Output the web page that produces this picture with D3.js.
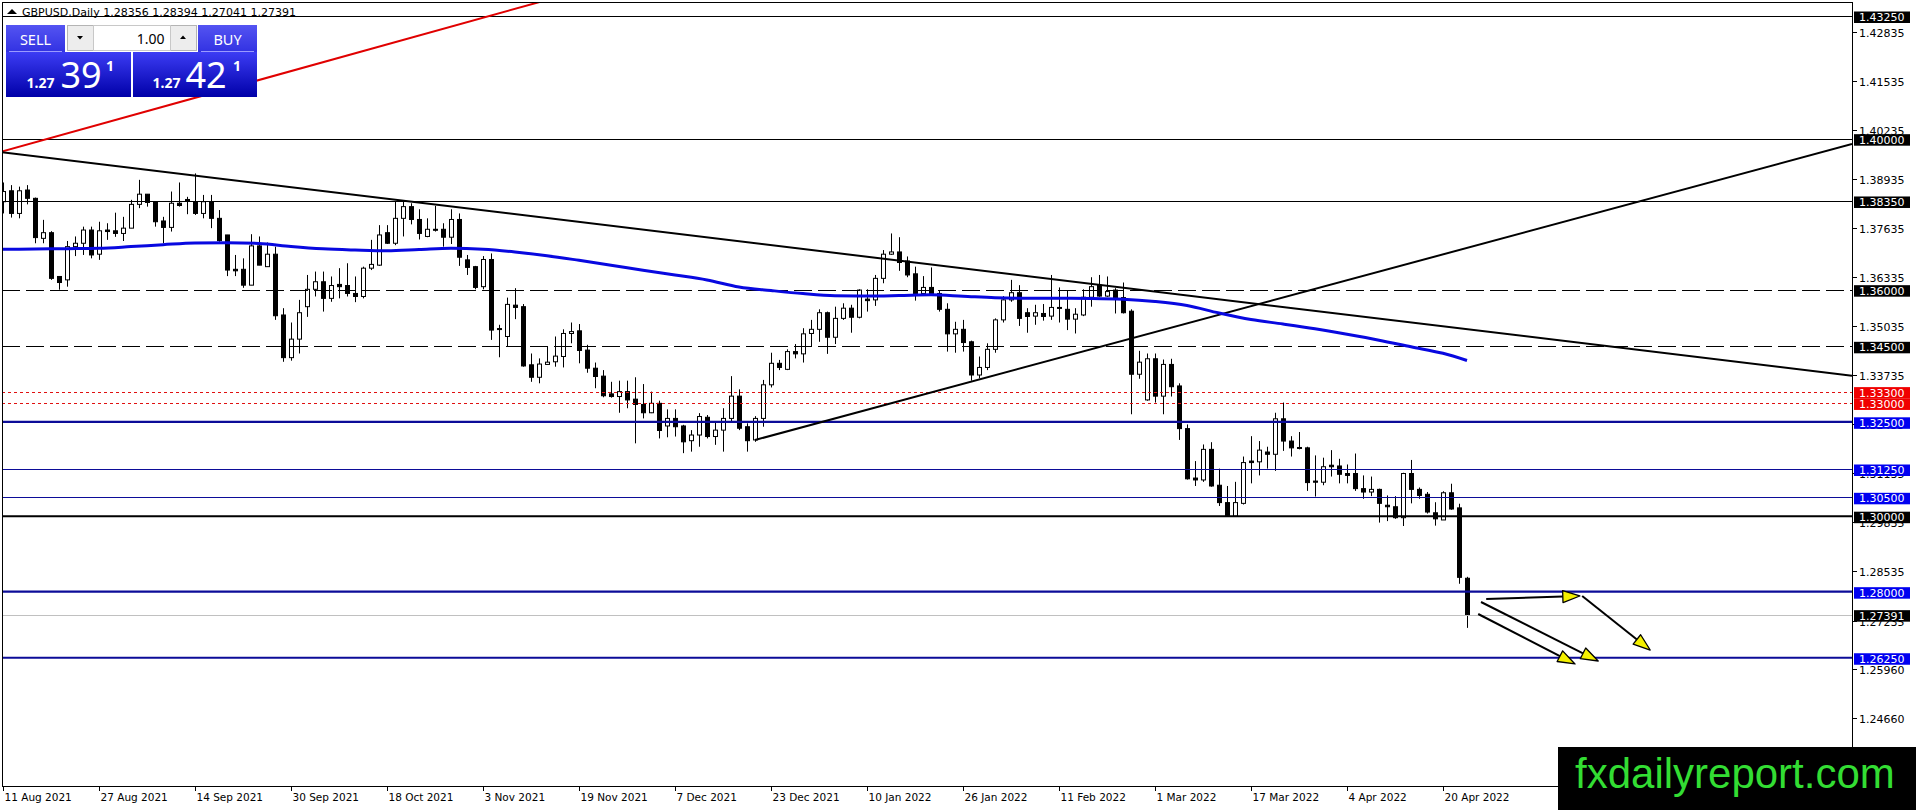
<!DOCTYPE html>
<html><head><meta charset="utf-8">
<script src="https://cdnjs.cloudflare.com/ajax/libs/d3/7.8.5/d3.min.js"></script>
<style>html,body{margin:0;padding:0;background:#fff;overflow:hidden}svg{display:block}</style>
</head><body>
<svg id="c" width="1916" height="810"></svg>
<script>
// ---------------- DATA ----------------
const symbolTitle = "GBPUSD,Daily";
const lastOHLC = ["1.28356", "1.28394", "1.27041", "1.27391"];
const firstBarDate = "2021-08-11";
const bidPrice = ["1.27", "39", "1"];
const askPrice = ["1.27", "42", "1"];
const lotSize = "1.00";

const open = [1.3833,1.3862,1.3802,1.3864,1.3842,1.3736,1.3751,1.3635,1.3626,1.3714,
1.3723,1.3758,1.3694,1.3758,1.3756,1.3749,1.3763,1.3826,1.3853,1.3833,
1.3782,1.3765,1.3829,1.3839,1.3833,1.3802,1.3833,1.3789,1.3745,1.3654,
1.3654,1.3612,1.3716,1.3661,1.3694,1.3533,1.3420,1.3469,1.3555,1.3601,
1.3621,1.3577,1.3614,1.3611,1.3590,1.3582,1.3657,1.3665,1.3751,1.3723,
1.3789,1.3820,1.3786,1.3741,1.3760,1.3760,1.3739,1.3786,1.3679,1.3661,
1.3608,1.3680,1.3497,1.3476,1.3559,1.3555,1.3401,1.3368,1.3402,1.3409,
1.3423,1.3484,1.3491,1.3440,1.3392,1.3371,1.3324,1.3317,1.3330,1.3310,
1.3296,1.3274,1.3299,1.3239,1.3259,1.3239,1.3200,1.3215,1.3262,1.3211,
1.3228,1.3259,1.3318,1.3237,1.3202,1.3259,1.3348,1.3405,1.3389,1.3436,
1.3430,1.3484,1.3495,1.3539,1.3474,1.3524,1.3551,1.3527,1.3575,1.3573,
1.3630,1.3694,1.3700,1.3676,1.3642,1.3590,1.3606,1.3590,1.3548,1.3483,
1.3495,1.3462,1.3374,1.3394,1.3442,1.3520,1.3573,1.3592,1.3539,1.3530,
1.3537,1.3530,1.3553,1.3548,1.3522,1.3533,1.3580,1.3612,1.3583,1.3599,
1.3579,1.3543,1.3376,1.3308,1.3417,1.3318,1.3402,1.3345,1.3232,1.3101,
1.3096,1.3177,1.3082,1.3036,1.3000,1.3034,1.3146,1.3144,1.3170,1.3164,
1.3258,1.3199,1.3182,1.3181,1.3093,1.3090,1.3135,1.3133,1.3113,1.3113,
1.3073,1.3064,1.3071,1.3029,1.3025,1.2996,1.3113,1.3071,1.3058,1.3009,
1.2990,1.3062,1.3022,1.28356];

const high = [1.3884,1.3877,1.3873,1.3877,1.3844,1.3785,1.3755,1.3635,1.3729,1.3741,
1.3767,1.3767,1.3780,1.3776,1.3804,1.3793,1.3838,1.3891,1.3853,1.3833,
1.3793,1.3860,1.3884,1.3846,1.3908,1.3851,1.3851,1.3811,1.3745,1.3692,
1.3683,1.3747,1.3741,1.3725,1.3714,1.3551,1.3513,1.3573,1.3639,1.3648,
1.3648,1.3635,1.3657,1.3670,1.3635,1.3661,1.3732,1.3771,1.3771,1.3833,
1.3833,1.3829,1.3813,1.3789,1.3822,1.3776,1.3813,1.3802,1.3692,1.3663,
1.3689,1.3696,1.3507,1.3579,1.3604,1.3562,1.3431,1.3418,1.3449,1.3476,
1.3495,1.3513,1.3509,1.3454,1.3407,1.3387,1.3356,1.3359,1.3359,1.3368,
1.3350,1.3330,1.3306,1.3283,1.3283,1.3242,1.3228,1.3273,1.3268,1.3250,
1.3286,1.3371,1.3336,1.3246,1.3265,1.3361,1.3433,1.3414,1.3442,1.3456,
1.3498,1.3520,1.3548,1.3542,1.3555,1.3564,1.3560,1.3601,1.3601,1.3639,
1.3705,1.3749,1.3739,1.3688,1.3661,1.3636,1.3659,1.3599,1.3564,1.3515,
1.3520,1.3465,1.3423,1.3458,1.3524,1.3583,1.3626,1.3612,1.3551,1.3560,
1.3562,1.3639,1.3606,1.3599,1.3551,1.3601,1.3633,1.3639,1.3635,1.3604,
1.3619,1.3548,1.3438,1.3431,1.3431,1.3415,1.3417,1.3352,1.3243,1.3146,
1.3190,1.3196,1.3126,1.3080,1.3091,1.3158,1.3212,1.3199,1.3184,1.3274,
1.3301,1.3212,1.3223,1.3184,1.3161,1.3155,1.3175,1.3152,1.3137,1.3166,
1.3108,1.3105,1.3073,1.3055,1.3053,1.3115,1.3149,1.3076,1.3064,1.3037,
1.3066,1.3086,1.3033,1.28394];

const low = [1.3802,1.3791,1.3789,1.3826,1.3723,1.3723,1.3626,1.3600,1.3608,1.3689,
1.3692,1.3683,1.3679,1.3732,1.3740,1.3729,1.3763,1.3816,1.3820,1.3767,
1.3723,1.3754,1.3820,1.3800,1.3798,1.3789,1.3763,1.3727,1.3636,1.3636,
1.3605,1.3612,1.3665,1.3661,1.3520,1.3409,1.3412,1.3431,1.3528,1.3582,
1.3542,1.3568,1.3577,1.3582,1.3567,1.3577,1.3652,1.3663,1.3721,1.3718,
1.3741,1.3773,1.3733,1.3739,1.3754,1.3714,1.3721,1.3663,1.3639,1.3601,
1.3601,1.3467,1.3421,1.3449,1.3522,1.3396,1.3356,1.3352,1.3401,1.3396,
1.3394,1.3458,1.3405,1.3380,1.3339,1.3315,1.3314,1.3274,1.3286,1.3193,
1.3259,1.3273,1.3206,1.3209,1.3211,1.3167,1.3171,1.3184,1.3206,1.3189,
1.3171,1.3250,1.3228,1.3171,1.3197,1.3237,1.3341,1.3387,1.3387,1.3418,
1.3407,1.3449,1.3462,1.3430,1.3456,1.3520,1.3486,1.3524,1.3542,1.3557,
1.3617,1.3692,1.3650,1.3633,1.3571,1.3589,1.3589,1.3542,1.3436,1.3433,
1.3436,1.3359,1.3365,1.3387,1.3433,1.3513,1.3568,1.3504,1.3486,1.3507,
1.3518,1.3520,1.3513,1.3493,1.3484,1.3530,1.3555,1.3581,1.3581,1.3537,
1.3537,1.3270,1.3364,1.3306,1.3301,1.3270,1.3317,1.3202,1.3097,1.3080,
1.3091,1.3078,1.3027,1.3000,1.2999,1.3031,1.3087,1.3108,1.3126,1.3120,
1.3173,1.3158,1.3177,1.3067,1.3052,1.3082,1.3105,1.3087,1.3087,1.3067,
1.3046,1.3053,1.2983,1.2987,1.2993,1.2974,1.3034,1.3046,1.3007,1.2975,
1.2990,1.3017,1.2821,1.27041];

const close = [1.3860,1.3802,1.3862,1.3842,1.3738,1.3751,1.3630,1.3619,1.3714,1.3723,
1.3758,1.3692,1.3756,1.3754,1.3749,1.3763,1.3826,1.3853,1.3831,1.3780,
1.3765,1.3829,1.3823,1.3835,1.3802,1.3833,1.3789,1.3730,1.3652,1.3650,
1.3612,1.3716,1.3665,1.3694,1.3531,1.3420,1.3469,1.3539,1.3601,1.3621,
1.3577,1.3611,1.3608,1.3590,1.3582,1.3657,1.3667,1.3745,1.3723,1.3789,
1.3820,1.3786,1.3749,1.3760,1.3759,1.3739,1.3786,1.3686,1.3659,1.3606,
1.3680,1.3493,1.3495,1.3561,1.3553,1.3398,1.3368,1.3403,1.3408,1.3424,
1.3484,1.3489,1.3439,1.3392,1.3370,1.3319,1.3317,1.3330,1.3308,1.3296,
1.3274,1.3299,1.3227,1.3259,1.3237,1.3197,1.3215,1.3264,1.3211,1.3228,
1.3259,1.3318,1.3233,1.3200,1.3259,1.3348,1.3405,1.3394,1.3436,1.3430,
1.3483,1.3495,1.3539,1.3474,1.3524,1.3551,1.3527,1.3599,1.3571,1.3630,
1.3694,1.3700,1.3672,1.3639,1.3590,1.3606,1.3590,1.3548,1.3483,1.3495,
1.3460,1.3374,1.3394,1.3442,1.3520,1.3573,1.3592,1.3524,1.3529,1.3539,
1.3529,1.3553,1.3551,1.3522,1.3535,1.3580,1.3608,1.3583,1.3595,1.3579,
1.3539,1.3376,1.3408,1.3417,1.3318,1.3402,1.3343,1.3232,1.3099,1.3096,
1.3177,1.3080,1.3036,1.3002,1.3036,1.3142,1.3142,1.3175,1.3164,1.3258,
1.3199,1.3181,1.3181,1.3089,1.3090,1.3131,1.3131,1.3111,1.3108,1.3073,
1.3064,1.3071,1.3034,1.3025,1.2996,1.3113,1.3071,1.3055,1.3011,1.2993,
1.3062,1.3019,1.2838,1.27391];

// moving average readings (bar index, value)
const maBars = [-1,0,4,8,12,16,20,24,28,32,36,40,44,48,52,56,60,64,68,72,76,80,84,88,92,96,100,104,108,112,116,120,124,128,132,136,140,144,148,152,156,160,164,168,172,176,180,183];
const maValues = [1.37068,1.37070,1.37078,1.37086,1.37096,1.37141,1.37192,1.37237,1.37245,1.37224,1.37144,1.37083,1.37051,1.37030,1.37062,1.37096,1.37070,1.36998,1.36900,1.36778,1.36649,1.36514,1.36389,1.36257,1.36071,1.35978,1.35896,1.35841,1.35833,1.35846,1.35865,1.35827,1.35785,1.35772,1.35772,1.35767,1.35748,1.35687,1.35581,1.35382,1.35210,1.35091,1.34964,1.34818,1.34662,1.34487,1.34315,1.34124];

const priceTickLabels = ["1.42835","1.41535","1.40235","1.38935","1.37635","1.36335","1.35035","1.33735","1.32435","1.31135","1.29835","1.28535","1.27235","1.25960","1.24660"];
const dateTickLabels = ["11 Aug 2021","27 Aug 2021","14 Sep 2021","30 Sep 2021","18 Oct 2021","3 Nov 2021","19 Nov 2021","7 Dec 2021","23 Dec 2021","10 Jan 2022","26 Jan 2022","11 Feb 2022","1 Mar 2022","17 Mar 2022","4 Apr 2022","20 Apr 2022"];

// horizontal levels
const levelPrices = [1.4325, 1.4000, 1.3835, 1.3600, 1.3450, 1.3330, 1.3300, 1.3250, 1.3125, 1.3050, 1.3000, 1.2800, 1.2625];
const levelLabels = ["1.43250","1.40000","1.38350","1.36000","1.34500","1.33300","1.33000","1.32500","1.31250","1.30500","1.30000","1.28000","1.26250"];
const currentPrice = 1.27391;

// trendlines: [bar1, price1, bar2, price2]
const trendRed = [-0.375, 1.39647, 62.125, 1.43329];
const trendDown = [-0.375, 1.39647, 231.125, 1.33722];
const trendUp = [94, 1.32018, 231.125, 1.39859];

// arrows: [bar1, price1, bar2, price2]
const arrowSegments = [
  [185.4, 1.27806, 197.1, 1.27886],
  [197.4, 1.27886, 205.9, 1.26455],
  [184.75, 1.27727, 199.4, 1.26164],
  [184.4, 1.27409, 196.5, 1.26085]
];
const watermarkText = "fxdailyreport.com";

// ---------------- DRAWING ----------------
const W = 1916, H = 810;
const plot = {l: 2, t: 2, r: 1852, b: 786};
const svg = d3.select("#c");
svg.append("rect").attr("width", W).attr("height", H).attr("fill", "#fff");
const defs = svg.append("defs");
defs.append("clipPath").attr("id", "clip").append("rect")
  .attr("x", plot.l).attr("y", plot.t).attr("width", plot.r - plot.l).attr("height", plot.b - plot.t);

const xs = d3.scaleLinear().domain([0, 231]).range([3, 1851]);
const ys = d3.scaleLinear().domain([1.4325, 1.2625]).range([16, 657.75]);

const n = Math.min(open.length, high.length, low.length, close.length);
const bars = d3.range(n).map(i => ({i, o: open[i], h: high[i], l: low[i], c: close[i]}));

// dates for bars (weekdays)
const dates = [];
{
  const d = new Date(firstBarDate + "T12:00:00");
  while (dates.length < n) {
    const wd = d.getDay();
    if (wd !== 0 && wd !== 6) dates.push(new Date(d));
    d.setDate(d.getDate() + 1);
  }
}
const fmt = d3.timeFormat("%-d %b %Y");

const g = svg.append("g").attr("clip-path", "url(#clip)");

// candles
const cg = g.append("g");
bars.forEach(b => {
  const x = Math.round(xs(b.i));
  cg.append("line").attr("x1", x + 0.5).attr("x2", x + 0.5)
    .attr("y1", ys(b.h)).attr("y2", ys(b.l)).attr("stroke", "#000").attr("stroke-width", 1);
  const yTop = ys(Math.max(b.o, b.c)), yBot = ys(Math.min(b.o, b.c));
  const bull = b.c >= b.o;
  const hh = Math.max(1, yBot - yTop);
  cg.append("rect").attr("x", x - 1.5).attr("y", yTop).attr("width", 4).attr("height", hh)
    .attr("fill", bull ? "#fff" : "#000").attr("stroke", "#000").attr("stroke-width", 1);
});

// level lines
const lineBlue = "#0c0c98", boxBlue = "#0000f0", red = "#e01010";
const levelStyle = [
  {c: "#000", w: 1, box: "#000"},
  {c: "#000", w: 1, box: "#000"},
  {c: "#000", w: 1, box: "#000"},
  {c: "#000", w: 1, dash: "18,6", box: "#000"},
  {c: "#000", w: 1, dash: "18,6", box: "#000"},
  {c: red, w: 1, dash: "3,3", box: "#f00000"},
  {c: red, w: 1, dash: "3,3", box: "#f00000"},
  {c: lineBlue, w: 2.2, box: boxBlue},
  {c: lineBlue, w: 1, box: boxBlue},
  {c: lineBlue, w: 1, box: boxBlue},
  {c: "#000", w: 2, box: "#000"},
  {c: lineBlue, w: 2.2, box: boxBlue},
  {c: lineBlue, w: 2.2, box: boxBlue}
];
const lg = g.append("g");
// current price line
{
  const y = Math.round(ys(currentPrice)) + 0.5;
  lg.append("line").attr("x1", plot.l).attr("x2", plot.r).attr("y1", y).attr("y2", y)
    .attr("stroke", "#c0c0c0").attr("stroke-width", 1);
}
levelPrices.forEach((p, k) => {
  const s = levelStyle[k];
  const y = s.w === 1 ? Math.round(ys(p)) + 0.5 : ys(p);
  const ln = lg.append("line").attr("x1", plot.l).attr("x2", plot.r).attr("y1", y).attr("y2", y)
    .attr("stroke", s.c).attr("stroke-width", s.w);
  if (s.dash) ln.attr("stroke-dasharray", s.dash);
});

// trendlines
function seg(t, color, w) {
  g.append("line").attr("x1", xs(t[0])).attr("y1", ys(t[1])).attr("x2", xs(t[2])).attr("y2", ys(t[3]))
    .attr("stroke", color).attr("stroke-width", w);
}
// extend red trendline to the top border
{
  const slope = (trendRed[3] - trendRed[1]) / (trendRed[2] - trendRed[0]);
  const ext = [trendRed[0], trendRed[1], trendRed[2] + 20, trendRed[3] + slope * 20];
  seg(ext, "#e00000", 2);
}
seg(trendDown, "#000", 2);
seg(trendUp, "#000", 2);

// moving average
const maLine = d3.line().x((d, k) => xs(maBars[k])).y(d => ys(d)).curve(d3.curveMonotoneX);
g.append("path").attr("d", maLine(maValues)).attr("fill", "none")
  .attr("stroke", "#0808e0").attr("stroke-width", 3).attr("stroke-linejoin", "round");

// arrows
const ag = g.append("g");
arrowSegments.forEach(a => {
  const x1 = xs(a[0]), y1 = ys(a[1]), x2 = xs(a[2]), y2 = ys(a[3]);
  const dx = x2 - x1, dy = y2 - y1, len = Math.hypot(dx, dy);
  const ux = dx / len, uy = dy / len, px = -uy, py = ux;
  const L = 17, hw = 6;
  const bx = x2 - ux * L, by = y2 - uy * L;
  ag.append("line").attr("x1", x1).attr("y1", y1).attr("x2", bx).attr("y2", by)
    .attr("stroke", "#000").attr("stroke-width", 2);
  ag.append("path").attr("d", `M${x2},${y2}L${bx + px * hw},${by + py * hw}L${bx - px * hw},${by - py * hw}Z`)
    .attr("fill", "#f4f000").attr("stroke", "#000").attr("stroke-width", 1.3).attr("stroke-linejoin", "round");
});

// frame / axes
const ax = svg.append("g");
ax.append("line").attr("x1", plot.l + 0.5).attr("x2", plot.l + 0.5).attr("y1", plot.t).attr("y2", plot.b).attr("stroke", "#000");
ax.append("line").attr("x1", plot.l).attr("x2", plot.r).attr("y1", plot.t + 0.5).attr("y2", plot.t + 0.5).attr("stroke", "#000");
ax.append("line").attr("x1", plot.r + 0.5).attr("x2", plot.r + 0.5).attr("y1", plot.t).attr("y2", plot.b).attr("stroke", "#000");
ax.append("line").attr("x1", plot.l).attr("x2", plot.r + 1).attr("y1", plot.b + 0.5).attr("y2", plot.b + 0.5).attr("stroke", "#000");

const fontAxis = "'DejaVu Sans', Tahoma, sans-serif";
// price ticks
priceTickLabels.forEach(t => {
  const y = Math.round(ys(+t)) + 0.5;
  ax.append("line").attr("x1", plot.r).attr("x2", plot.r + 5).attr("y1", y).attr("y2", y).attr("stroke", "#000");
  ax.append("text").attr("x", 1859).attr("y", y + 4).attr("font-family", fontAxis).attr("font-size", 11)
    .attr("fill", "#000").text(t);
});
// level boxes
function priceBox(p, label, col) {
  const y = ys(p);
  ax.append("rect").attr("x", 1854).attr("y", y - 4.5).attr("width", 56).attr("height", 11.5).attr("fill", col);
  ax.append("text").attr("x", 1859).attr("y", y + 5).attr("font-family", fontAxis).attr("font-size", 11)
    .attr("fill", "#fff").text(label);
}
levelPrices.forEach((p, k) => priceBox(p, levelLabels[k], levelStyle[k].box));
priceBox(currentPrice, currentPrice.toFixed(5), "#000");

// date ticks
dateTickLabels.forEach(lbl => {
  const idx = dates.findIndex(d => fmt(d) === lbl);
  if (idx < 0) return;
  const x = Math.round(xs(idx)) + 0.5;
  ax.append("line").attr("x1", x).attr("x2", x).attr("y1", plot.b).attr("y2", plot.b + 5).attr("stroke", "#000");
  ax.append("text").attr("x", x + 1).attr("y", 801).attr("font-family", fontAxis).attr("font-size", 10.5)
    .attr("fill", "#000").text(lbl);
});

// title
ax.append("path").attr("d", "M7,14L12,9L17,14Z").attr("fill", "#000");
ax.append("text").attr("x", 22).attr("y", 16).attr("font-family", fontAxis).attr("font-size", 10.5)
  .attr("fill", "#000").attr("textLength", 274).attr("lengthAdjust", "spacingAndGlyphs")
  .text(symbolTitle + "  " + lastOHLC.join(" "));

// trade panel
const gr1 = defs.append("linearGradient").attr("id", "btn").attr("x1", 0).attr("y1", 0).attr("x2", 0).attr("y2", 1);
gr1.append("stop").attr("offset", 0).attr("stop-color", "#5454f2");
gr1.append("stop").attr("offset", 1).attr("stop-color", "#3232e2");
const gr2 = defs.append("linearGradient").attr("id", "prc").attr("x1", 0).attr("y1", 0).attr("x2", 0).attr("y2", 1);
gr2.append("stop").attr("offset", 0).attr("stop-color", "#3c3cf4");
gr2.append("stop").attr("offset", 1).attr("stop-color", "#0000a8");
const tp = svg.append("g");
const fontUI = "'Noto Sans', 'Open Sans', sans-serif";
tp.append("rect").attr("x", 6).attr("y", 25).attr("width", 59).attr("height", 27).attr("fill", "url(#btn)");
tp.append("rect").attr("x", 198).attr("y", 25).attr("width", 59).attr("height", 27).attr("fill", "url(#btn)");
tp.append("line").attr("x1", 9).attr("x2", 62).attr("y1", 51.5).attr("y2", 51.5).attr("stroke", "#9a9aff");
tp.append("line").attr("x1", 201).attr("x2", 254).attr("y1", 51.5).attr("y2", 51.5).attr("stroke", "#9a9aff");
tp.append("text").attr("x", 35.5).attr("y", 44.5).attr("text-anchor", "middle").attr("font-family", fontUI)
  .attr("font-size", 14.5).attr("fill", "#fff").text("SELL");
tp.append("text").attr("x", 227.5).attr("y", 44.5).attr("text-anchor", "middle").attr("font-family", fontUI)
  .attr("font-size", 14.5).attr("fill", "#fff").text("BUY");
// spinner
tp.append("rect").attr("x", 67.5).attr("y", 25.5).attr("width", 129).attr("height", 25).attr("fill", "#ededed").attr("stroke", "#b4b4b4");
tp.append("rect").attr("x", 93.5).attr("y", 25.5).attr("width", 77).attr("height", 25).attr("fill", "#fff").attr("stroke", "#c8c8c8");
tp.append("path").attr("d", "M77,36L83,36L80,39.5Z").attr("fill", "#000");
tp.append("path").attr("d", "M180,39L186,39L183,35.5Z").attr("fill", "#000");
tp.append("text").attr("x", 164.5).attr("y", 43.5).attr("text-anchor", "end").attr("font-family", fontUI)
  .attr("font-size", 14).attr("fill", "#000").text(lotSize);
// price panels
function pricePanel(x0, w, parts, xs1, xs2, xs3) {
  tp.append("rect").attr("x", x0).attr("y", 52).attr("width", w).attr("height", 45).attr("fill", "url(#prc)");
  tp.append("text").attr("x", xs1).attr("y", 87.5).attr("font-family", fontUI).attr("font-weight", "bold")
    .attr("font-size", 14).attr("fill", "#fff").text(parts[0]);
  tp.append("text").attr("x", xs2).attr("y", 87.5).attr("font-family", fontUI)
    .attr("font-size", 36).attr("fill", "#fff").text(parts[1]);
  tp.append("text").attr("x", xs3).attr("y", 71).attr("font-family", fontUI).attr("font-weight", "bold")
    .attr("font-size", 14).attr("fill", "#fff").text(parts[2]);
}
pricePanel(6, 125, bidPrice, 26.5, 60.5, 106);
pricePanel(133, 124, askPrice, 152.5, 185.5, 233);

// watermark
svg.append("rect").attr("x", 1558).attr("y", 747).attr("width", W - 1558).attr("height", H - 747).attr("fill", "#000");
svg.append("text").attr("x", 1575).attr("y", 788).attr("font-family", "'Liberation Sans', Arial, sans-serif")
  .attr("font-size", 42).attr("fill", "#33dd33").text(watermarkText);
</script>
</body></html>
